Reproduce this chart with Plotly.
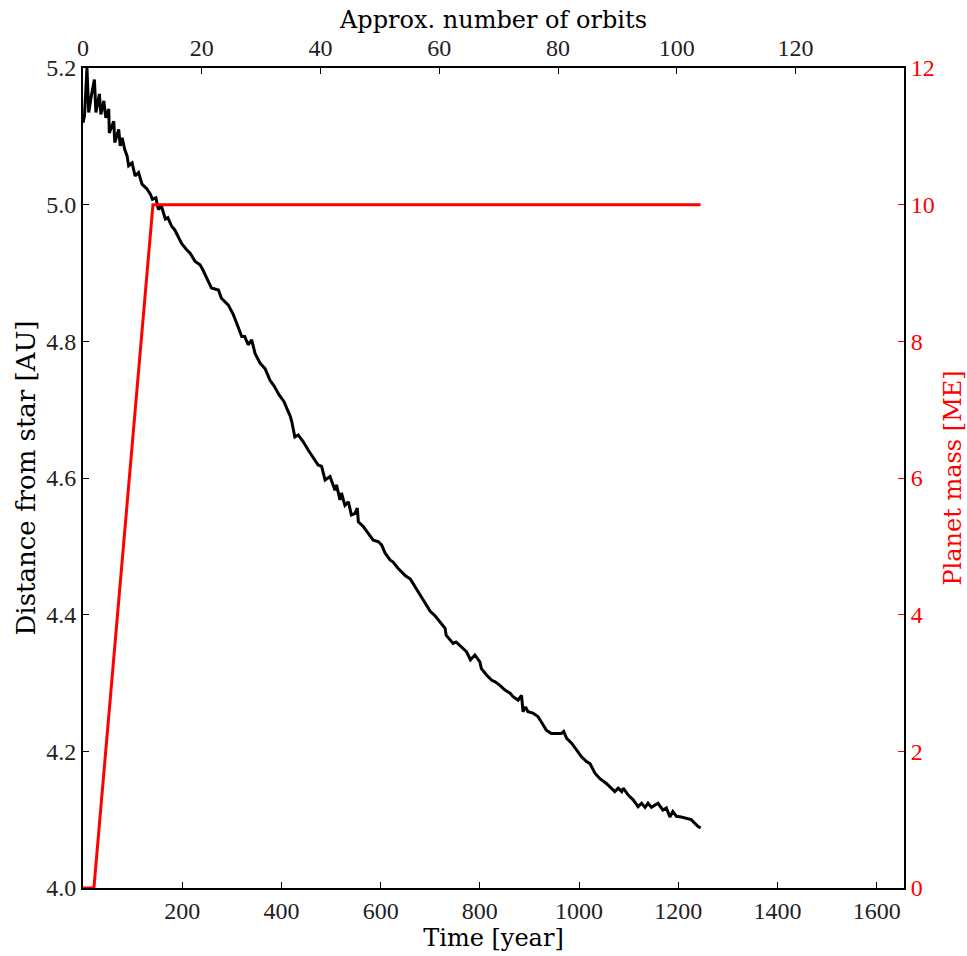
import plotly.graph_objects as go

# Distance from star [AU] vs time [year]
time_years = [0, 3, 8, 11.5, 17, 23, 26, 33, 36, 42, 46, 52, 53, 62, 64, 72, 75, 79, 84, 89, 92, 99, 105, 112,
              119, 129, 136, 140, 147, 152, 158, 166, 171, 179, 185, 199, 209, 216, 226, 236, 242, 259, 273, 279,
              293, 303, 310, 313, 320, 326, 333, 340, 347, 357, 367, 377, 385, 395, 405, 412, 418, 421, 427, 434,
              444, 454, 464, 474, 481, 488, 498, 508, 511, 518, 521, 528, 535, 541, 548, 553, 555, 565, 575, 585,
              595, 602, 609, 619, 625, 635, 650, 660, 670, 680, 690, 700, 710, 719, 730, 732, 740, 746, 752, 763,
              773, 781, 790, 800, 803, 813, 824, 830, 840, 850, 861, 867, 877, 884, 887, 892, 897, 907, 917, 924,
              934, 944, 954, 964, 969, 975, 985, 995, 1005, 1015, 1022, 1032, 1042, 1055, 1065, 1072, 1079, 1086,
              1089, 1099, 1109, 1119, 1126, 1133, 1139, 1146, 1159, 1169, 1176, 1183, 1189, 1196, 1206, 1216,
              1226, 1233, 1240, 1245]
distance_au = [5.12, 5.130, 5.20, 5.135, 5.16, 5.183, 5.135, 5.162, 5.132, 5.152, 5.127, 5.140, 5.105, 5.122,
               5.091, 5.110, 5.086, 5.098, 5.081, 5.071, 5.057, 5.061, 5.042, 5.047, 5.030, 5.023, 5.015, 5.008,
               5.010, 4.993, 4.998, 4.979, 4.981, 4.968, 4.963, 4.943, 4.934, 4.929, 4.917, 4.912, 4.904, 4.878,
               4.875, 4.863, 4.853, 4.839, 4.826, 4.821, 4.807, 4.807, 4.795, 4.802, 4.782, 4.768, 4.760, 4.743,
               4.735, 4.722, 4.712, 4.700, 4.690, 4.682, 4.660, 4.663, 4.653, 4.641, 4.629, 4.619, 4.617, 4.597,
               4.602, 4.582, 4.590, 4.568, 4.578, 4.560, 4.565, 4.546, 4.548, 4.556, 4.536, 4.529, 4.519, 4.509,
               4.507, 4.502, 4.490, 4.480, 4.477, 4.468, 4.457, 4.452, 4.440, 4.428, 4.415, 4.405, 4.398, 4.390,
               4.380, 4.370, 4.363, 4.358, 4.360, 4.353, 4.346, 4.334, 4.341, 4.331, 4.321, 4.312, 4.304, 4.302,
               4.297, 4.290, 4.285, 4.280, 4.275, 4.282, 4.258, 4.265, 4.258, 4.256, 4.251, 4.243, 4.231, 4.226,
               4.226, 4.226, 4.229, 4.219, 4.212, 4.202, 4.192, 4.185, 4.182, 4.168, 4.160, 4.153, 4.146, 4.141,
               4.146, 4.141, 4.146, 4.136, 4.129, 4.119, 4.124, 4.118, 4.124, 4.118, 4.124, 4.114, 4.117, 4.104,
               4.112, 4.105, 4.104, 4.102, 4.100, 4.095, 4.090, 4.088]

# Planet mass [ME] vs time [year]
mass_time = [0, 22, 141, 1245]
mass_me = [0, 0, 10, 10]

# Years per orbit used for the top (orbit-count) axis
years_per_orbit = 11.97

# Tick labels
time_ticks = [200, 400, 600, 800, 1000, 1200, 1400, 1600]
orbit_ticks = [0, 20, 40, 60, 80, 100, 120]
dist_ticks = [4.0, 4.2, 4.4, 4.6, 4.8, 5.0, 5.2]
mass_ticks = [0, 2, 4, 6, 8, 10, 12]

TICKFONT = "Liberation Serif"
TITLEFONT = "DejaVu Serif"
TICKCOL = "#222222"
TIME_MAX = 1655

fig = go.Figure()
fig.add_trace(go.Scatter(x=time_years, y=distance_au, mode="lines",
                         line=dict(color="black", width=3), xaxis="x", yaxis="y",
                         showlegend=False, hoverinfo="skip"))
fig.add_trace(go.Scatter(x=mass_time, y=mass_me, mode="lines",
                         line=dict(color="red", width=3), xaxis="x", yaxis="y2",
                         showlegend=False, hoverinfo="skip"))
# same distance curve expressed in orbits, drawn transparent so the top axis is rendered
fig.add_trace(go.Scatter(x=[t / years_per_orbit for t in time_years], y=distance_au, mode="lines",
                         line=dict(color="rgba(0,0,0,0)", width=0), xaxis="x2", yaxis="y",
                         showlegend=False, hoverinfo="skip"))

common_axis = dict(showline=True, linecolor="black", linewidth=2, mirror=False,
                   showgrid=False, zeroline=False, ticks="inside", ticklen=6,
                   tickwidth=1, tickcolor="black", automargin=False)

fig.update_layout(
    width=967, height=956,
    margin=dict(l=83, r=63, t=68, b=68, pad=0),
    paper_bgcolor="white", plot_bgcolor="white",
    font=dict(family=TICKFONT, size=24, color="black"),
    xaxis=dict(range=[0, TIME_MAX], tickvals=time_ticks, ticktext=[str(v) for v in time_ticks],
               tickfont=dict(family=TICKFONT, size=24, color=TICKCOL),
               title=dict(text="Time [year]", font=dict(family=TITLEFONT, size=24, color="black"), standoff=6),
               side="bottom", anchor="y", **common_axis),
    xaxis2=dict(range=[0, TIME_MAX / years_per_orbit], tickvals=orbit_ticks,
                ticktext=[str(v) for v in orbit_ticks],
                tickfont=dict(family=TICKFONT, size=24, color=TICKCOL),
                title=dict(text="Approx. number of orbits", font=dict(family=TITLEFONT, size=24, color="black"),
                           standoff=0),
                side="top", overlaying="x", anchor="y", **common_axis),
    yaxis=dict(range=[4.0, 5.2], tickvals=dist_ticks, ticktext=[f"{v:.1f}" for v in dist_ticks],
               tickfont=dict(family=TICKFONT, size=24, color=TICKCOL),
               title=dict(text="Distance from star [AU]", font=dict(family=TITLEFONT, size=26, color="black"),
                          standoff=3),
               side="left", anchor="x", **common_axis),
    yaxis2=dict(range=[0, 12], tickvals=mass_ticks, ticktext=[str(v) for v in mass_ticks],
                tickfont=dict(family=TICKFONT, size=24, color="red"),
                title=dict(text="Planet mass [ME]", font=dict(family=TITLEFONT, size=24, color="red"),
                           standoff=10),
                side="right", overlaying="y", anchor="x", automargin=False,
                showline=True, linecolor="black", linewidth=2, showgrid=False, zeroline=False,
                ticks="inside", ticklen=6, tickwidth=1, tickcolor="red"),
)

fig.write_html("out.html")
